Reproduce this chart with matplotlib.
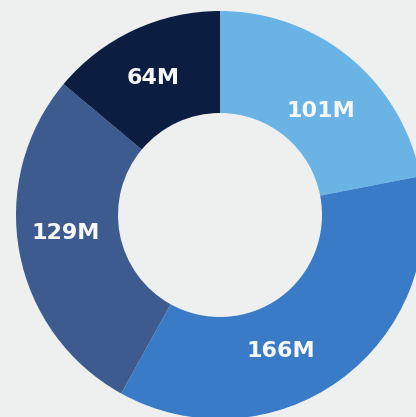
import matplotlib
matplotlib.use("Agg")
import matplotlib.pyplot as plt
import numpy as np

labels = ["101M", "166M", "129M", "64M"]
values = [101, 166, 129, 64]
colors = ["#69b3e5", "#3a7bc8", "#3d5b8e", "#0b1d40"]
# label placement (angle in degrees, radius fraction) for each slice
label_angles = [46, -66, 186.5, 116]
label_radius = [0.71, 0.73, 0.76, 0.745]

bg = "#eef0f0"
W, H = 416, 417
cx, cy, R = 220, 215, 204

fig = plt.figure(figsize=(W / 100, H / 100), dpi=100, facecolor=bg)
ax = fig.add_axes([0, 0, 1, 1])
ax.set_facecolor(bg)

ax.pie(values, colors=colors, startangle=90, counterclock=False, radius=1.0,
       wedgeprops=dict(width=0.5, linewidth=0))

for lab, a, r in zip(labels, label_angles, label_radius):
    t = np.deg2rad(a)
    ax.text(r * np.cos(t), r * np.sin(t), lab, ha="center", va="center",
            color="#f7f7f7", fontsize=16, fontweight="bold", family="DejaVu Sans")

ax.set_xlim((0 - cx) / R, (W - cx) / R)
ax.set_ylim(-(H - cy) / R, cy / R)
ax.set_aspect("auto")
ax.axis("off")
fig.savefig("out.png", dpi=100, facecolor=bg)
